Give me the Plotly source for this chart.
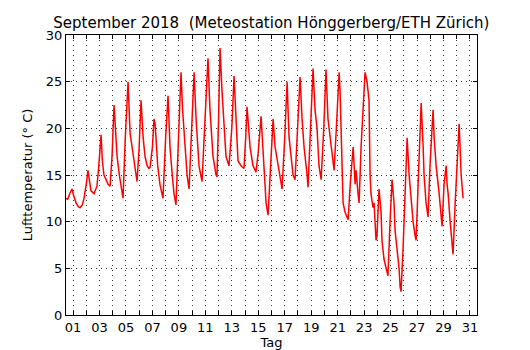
import plotly.graph_objects as go

# Zeitpunkt in Tagen (Tag 1, 12 Uhr = 1.0) und Lufttemperatur in °C
tag = [
    0.47, 0.60, 0.75, 0.92, 1.05, 1.23, 1.40, 1.53, 1.70, 1.83,
    2.00, 2.13, 2.25, 2.36, 2.59, 2.81, 2.95, 3.12, 3.22, 3.34,
    3.50, 3.65, 3.80, 3.95, 4.10, 4.20, 4.33, 4.50, 4.63, 4.78,
    4.95, 5.16, 5.31, 5.54, 5.76, 5.84, 6.00, 6.14, 6.30, 6.44,
    6.60, 6.74, 6.82, 7.00, 7.12, 7.20, 7.27, 7.40, 7.57, 7.73,
    7.80, 8.00, 8.18, 8.25, 8.33, 8.50, 8.63, 8.78, 8.95, 9.16,
    9.28, 9.39, 9.62, 9.77, 9.95, 10.15, 10.30, 10.52, 10.75, 10.95,
    11.20, 11.35, 11.58, 11.81, 11.88, 12.00, 12.11, 12.26, 12.41, 12.56,
    12.79, 13.00, 13.17, 13.32, 13.47, 13.70, 13.92, 14.05, 14.15, 14.38,
    14.60, 14.83, 15.00, 15.21, 15.36, 15.44, 15.59, 15.74, 15.95, 16.12,
    16.27, 16.50, 16.72, 16.80, 17.00, 17.18, 17.25, 17.33, 17.48, 17.63,
    17.78, 17.95, 18.16, 18.31, 18.46, 18.69, 18.76, 18.95, 19.14, 19.29,
    19.44, 19.59, 19.75, 19.95, 20.12, 20.27, 20.50, 20.65, 20.73, 20.90,
    21.11, 21.18, 21.26, 21.41, 21.56, 21.79, 21.95, 22.09, 22.17, 22.32,
    22.39, 22.54, 22.62, 22.77, 22.92, 23.07, 23.22, 23.37, 23.45, 23.52,
    23.67, 23.75, 23.90, 23.97, 24.05, 24.13, 24.28, 24.35, 24.50, 24.65,
    24.80, 24.96, 25.11, 25.26, 25.34, 25.49, 25.64, 25.72, 25.79, 25.94,
    26.09, 26.25, 26.40, 26.55, 26.70, 26.85, 26.93, 27.08, 27.23, 27.31,
    27.46, 27.53, 27.68, 27.76, 27.83, 27.98, 28.14, 28.21, 28.29, 28.44,
    28.67, 28.82, 28.89, 29.04, 29.20, 29.27, 29.35, 29.50, 29.65, 29.72,
    29.88, 30.03, 30.18, 30.25, 30.33, 30.48,
]
temperatur = [
    12.5, 12.4, 13.0, 13.5, 12.8, 12.0, 11.6, 11.5, 11.8, 12.5,
    14.0, 15.5, 14.3, 13.3, 13.0, 13.8, 16.0, 19.3, 16.5, 15.0,
    14.5, 14.0, 13.8, 17.0, 22.5, 20.0, 17.0, 15.0, 14.0, 12.5,
    19.0, 25.0, 19.5, 17.0, 15.0, 14.3, 18.0, 23.0, 19.0, 17.0,
    16.0, 15.7, 15.8, 18.0, 21.0, 20.5, 19.0, 16.0, 14.0, 13.0,
    12.5, 19.0, 23.5, 21.0, 18.0, 15.0, 13.0, 11.8, 19.0, 26.0,
    22.0, 20.0, 15.0, 13.5, 19.0, 26.0, 21.0, 16.0, 14.3, 20.0,
    27.5, 22.0, 17.0, 15.0, 14.8, 21.0, 28.6, 24.0, 20.0, 17.0,
    16.0, 20.0, 25.6, 21.0, 16.5, 16.0, 15.7, 19.0, 22.3, 18.0,
    16.0, 15.3, 17.5, 21.3, 18.0, 15.0, 12.0, 10.7, 16.0, 21.0,
    18.0, 16.0, 14.0, 13.5, 19.0, 25.0, 22.0, 19.0, 17.0, 15.0,
    14.5, 20.0, 25.5, 21.0, 18.0, 15.0, 13.7, 20.0, 26.4, 22.0,
    20.0, 16.0, 14.5, 20.0, 26.3, 21.0, 18.0, 16.0, 15.5, 20.0,
    26.0, 24.0, 20.0, 12.0, 11.0, 10.2, 14.0, 17.3, 18.0, 14.0,
    15.5, 13.0, 12.0, 18.0, 22.0, 26.0, 25.0, 23.0, 15.0, 13.0,
    11.5, 12.0, 8.0, 8.5, 11.0, 13.5, 11.0, 8.0, 6.0, 5.0,
    4.2, 10.0, 14.5, 12.0, 9.0, 7.0, 5.0, 3.0, 2.5, 7.0,
    14.0, 19.0, 15.0, 12.0, 10.0, 8.5, 8.0, 14.0, 20.0, 22.7,
    18.0, 15.0, 12.0, 11.0, 10.5, 16.0, 20.0, 22.0, 19.0, 16.0,
    13.0, 11.0, 9.5, 14.0, 16.0, 14.0, 13.0, 10.0, 8.0, 6.5,
    12.0, 17.0, 20.5, 18.0, 15.0, 12.5,
]

# Achsenbeschriftung: Strich an jedem Tag, Zahl an jedem zweiten
tage = list(range(1, 32))
tag_labels = [f"{d:02d}" if d % 2 == 1 else "" for d in tage]
y_ticks = [0, 5, 10, 15, 20, 25, 30]

font = "DejaVu Sans, Liberation Sans, sans-serif"

fig = go.Figure()
fig.add_trace(go.Scatter(
    x=tag, y=temperatur, mode="lines",
    line=dict(color="#ff0000", width=1.5),
    showlegend=False, hoverinfo="skip",
))

axis_common = dict(
    showline=True, linecolor="black", linewidth=1.2, mirror="allticks",
    ticks="inside", ticklen=4, tickwidth=1, tickcolor="black",
    showgrid=True, gridcolor="#333333", gridwidth=1, griddash="1px,4px",
    zeroline=False, automargin=False,
    tickfont=dict(family=font, size=13, color="black"),
)

fig.update_layout(
    width=530, height=350,
    margin=dict(l=66, r=53, t=35, b=35),
    paper_bgcolor="white", plot_bgcolor="white",
    title=dict(
        text="September 2018  (Meteostation Hönggerberg/ETH Zürich)",
        x=0.512, xanchor="center", y=0.935, yanchor="middle",
        font=dict(family=font, size=15, color="black"),
    ),
    xaxis=dict(
        range=[0.47, 31.53], tickvals=tage, ticktext=tag_labels,
        title=dict(text="Tag", font=dict(family=font, size=13, color="black"), standoff=2),
        **axis_common,
    ),
    yaxis=dict(
        range=[0, 30], tickvals=y_ticks,
        title=dict(text="Lufttemperatur (° C)", font=dict(family=font, size=13, color="black"), standoff=10),
        **axis_common,
    ),
)

fig.write_html("out.html")
